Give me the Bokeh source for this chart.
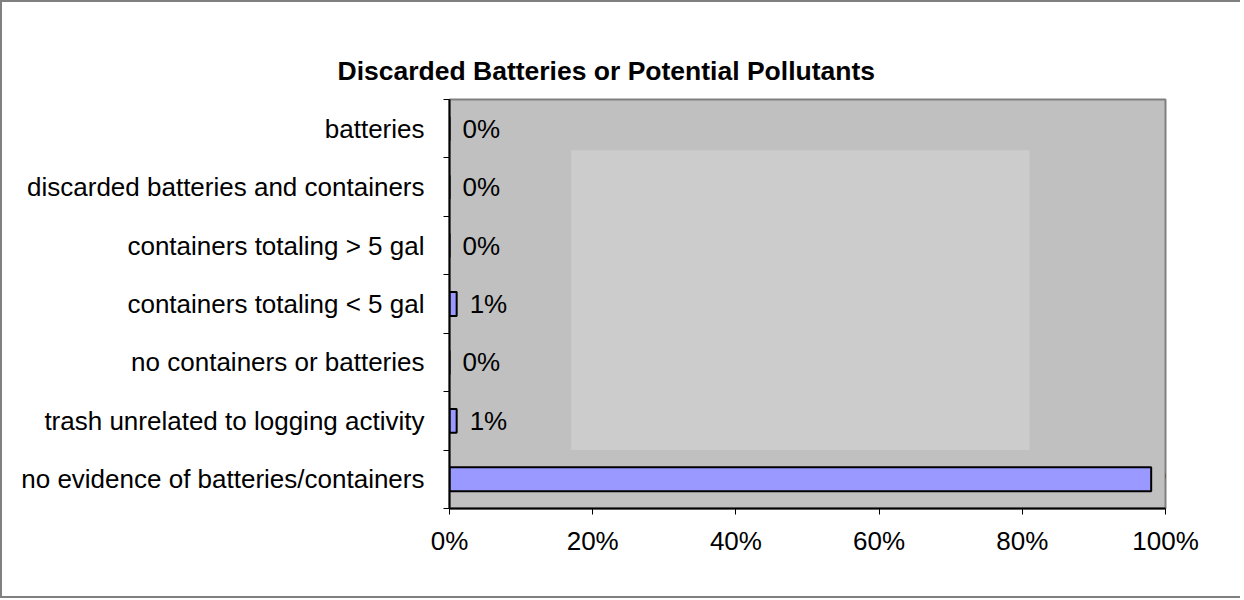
from bokeh.plotting import figure
from bokeh.models import FixedTicker, NumeralTickFormatter, Range1d, BoxAnnotation, ColumnDataSource
from bokeh.core.properties import value
from bokeh.embed import file_html
from bokeh.resources import INLINE

# Data (bottom to top)
categories = [
    "no evidence of batteries/containers",
    "trash unrelated to logging activity",
    "no containers or batteries",
    "containers totaling < 5 gal",
    "containers totaling > 5 gal",
    "discarded batteries and containers",
    "batteries",
]
percent = [98, 1, 0, 1, 0, 0, 0]
x_ticks = [0, 0.2, 0.4, 0.6, 0.8, 1.0]

FONT = "Liberation Sans"
FS = "26px"
centers = [i + 0.5 for i in range(len(categories))]
bounds = list(range(len(categories) + 1))

src = ColumnDataSource(dict(
    y=centers,
    frac=[v / 100 for v in percent],
    lab=[f"{v}%" for v in percent],
))

p = figure(
    frame_width=716, frame_height=409,
    min_border_left=447, min_border_right=75,
    min_border_top=97, min_border_bottom=88,
    x_range=Range1d(0, 1), y_range=Range1d(0, len(categories)),
    output_backend="svg", toolbar_location=None,
    title="Discarded Batteries or Potential Pollutants",
)
p.styles = {"border-left": "2px solid #808080",
            "border-top": "2px solid #808080",
            "border-bottom": "2px solid #808080"}

p.background_fill_color = "#c0c0c0"
p.border_fill_color = "white"
p.outline_line_color = "#808080"
p.outline_line_width = 2
p.xgrid.visible = False
p.ygrid.visible = False

# scan-like lighter panel inside the plot area
p.add_layout(BoxAnnotation(left=0.17, right=0.81, bottom=1.0, top=6.13,
                           fill_color="#cccccc", fill_alpha=1, line_color=None,
                           level="underlay"))

p.hbar(y="y", left=0, right="frac", height=0.41, source=src,
       fill_color="#9999ff", line_color="black", line_width=2)
p.text(x="frac", y="y", text="lab", source=src, x_offset=13,
       text_align="left", text_baseline="middle",
       text_font=value(FONT), text_font_size=FS, text_color="black")

# title
p.title.text_font = FONT
p.title.text_font_size = "26.5px"
p.title.text_font_style = "bold"
p.title.text_color = "black"
p.title.align = "left"
p.title.offset = -112
p.title.standoff = 28

# x axis
xa = p.xaxis[0]
xa.ticker = FixedTicker(ticks=x_ticks)
xa.formatter = NumeralTickFormatter(format="0%")
xa.major_label_text_font = FONT
xa.major_label_text_font_size = FS
xa.major_label_text_color = "black"
xa.axis_line_color = "black"
xa.axis_line_width = 2
xa.major_tick_in = 0
xa.major_tick_out = 6
xa.major_tick_line_color = "black"
xa.minor_tick_line_color = None
xa.major_label_standoff = 11

# y axis
ya = p.yaxis[0]
ya.ticker = FixedTicker(ticks=centers, minor_ticks=bounds)
ya.major_label_overrides = {c: name for c, name in zip(centers, categories)}
ya.major_label_text_font = FONT
ya.major_label_text_font_size = FS
ya.major_label_text_color = "black"
ya.axis_line_color = "black"
ya.axis_line_width = 2
ya.major_tick_in = 0
ya.major_tick_out = 0
ya.minor_tick_in = 0
ya.minor_tick_out = 6
ya.minor_tick_line_color = "black"
ya.major_label_standoff = 19

open("out.html", "w").write(file_html(p, INLINE))
